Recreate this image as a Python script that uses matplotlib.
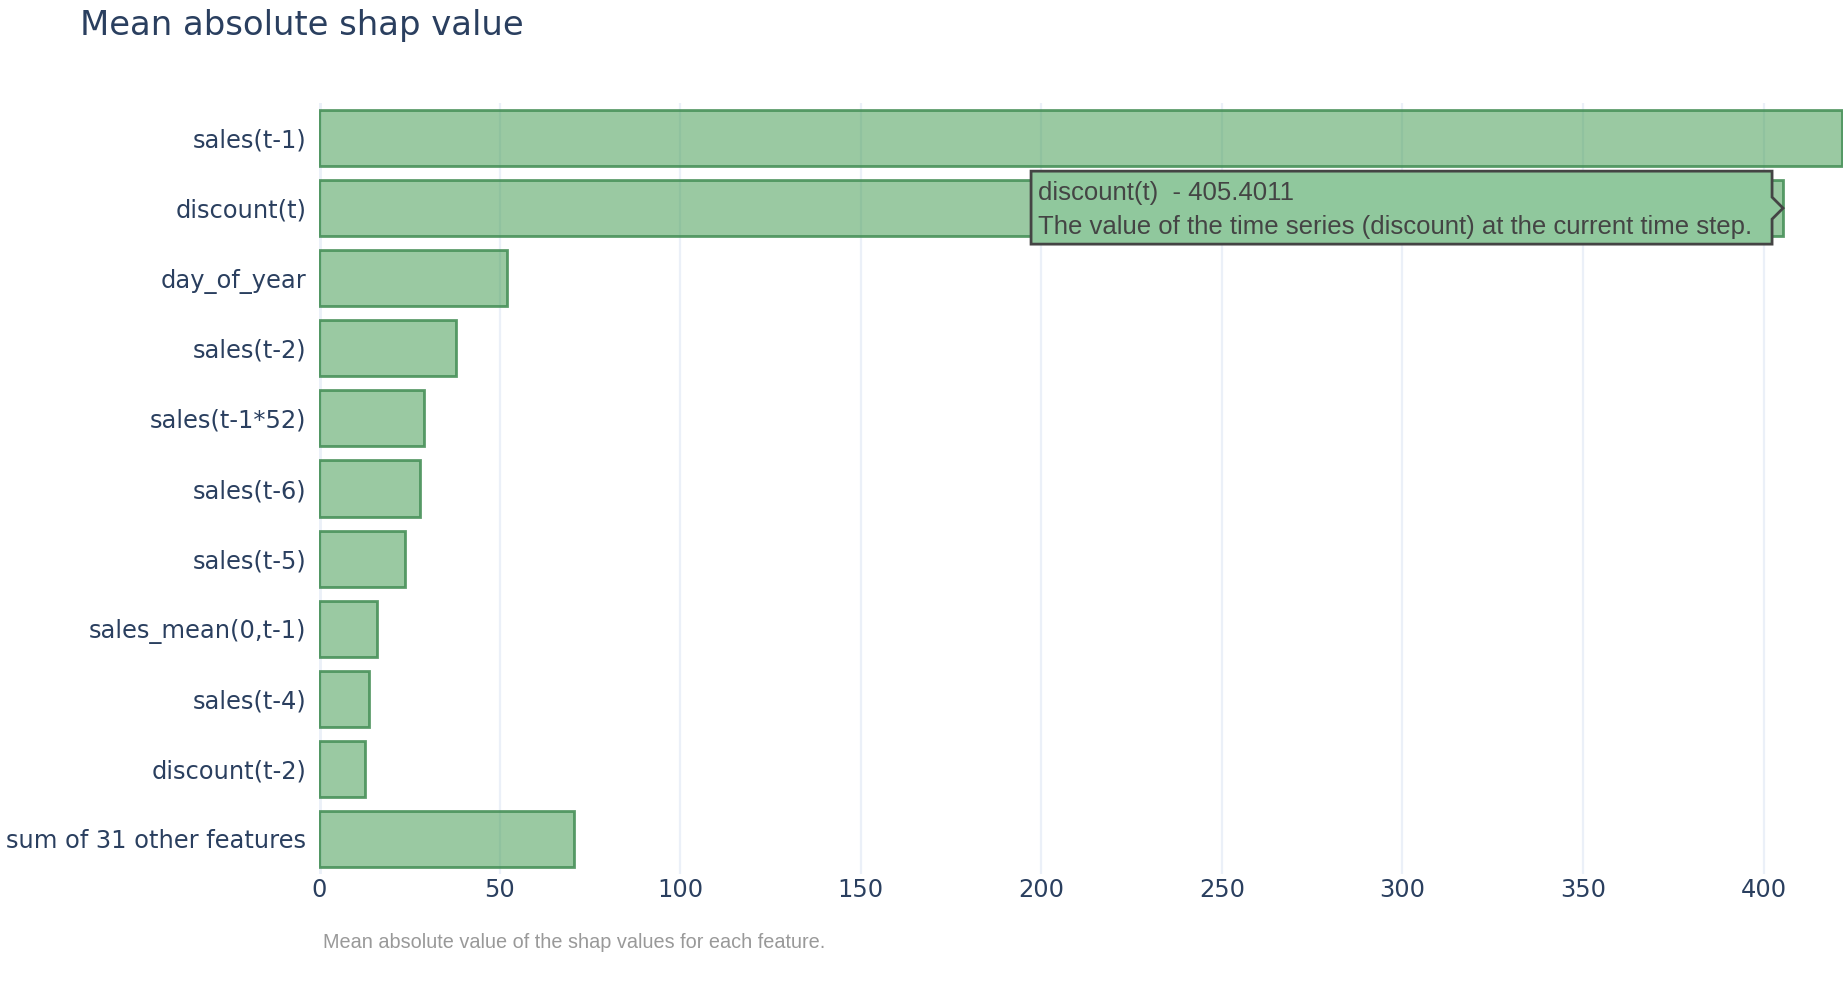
import matplotlib
matplotlib.use("Agg")
import matplotlib.pyplot as plt
from matplotlib.patches import Polygon
from matplotlib.transforms import IdentityTransform

# feature names, top to bottom
features = ["sales(t-1)", "discount(t)", "day_of_year", "sales(t-2)", "sales(t-1*52)",
            "sales(t-6)", "sales(t-5)", "sales_mean(0,t-1)", "sales(t-4)", "discount(t-2)",
            "sum of 31 other features"]
mean_abs_shap = [421.6, 405.4011, 52.1, 38.0, 29.2, 27.9, 23.9, 16.1, 13.8, 12.8, 70.5]
x_ticks = [0, 50, 100, 150, 200, 250, 300, 350, 400]

hover_feature = "discount(t)"
hover_desc = "The value of the time series (discount) at the current time step."

W, H, DPI = 1848, 985, 100
txt_col = "#2a3f5f"
grid_col = "#ebf0f8"

fig = plt.figure(figsize=(W / DPI, H / DPI), dpi=DPI)
ax = fig.add_axes([319 / W, 1 - 874 / H, (1843 - 319) / W, (874 - 103) / H])

ypos = list(range(len(features)))
ax.barh(ypos, mean_abs_shap, height=0.8, color=(0.215, 0.585, 0.28, 0.5),
        edgecolor=(0.25, 0.55, 0.32, 0.85), linewidth=2, zorder=3)

ax.set_ylim(len(features) - 0.5, -0.5)
ax.set_xlim(0, 422)
ax.set_yticks(ypos)
ax.set_yticklabels(features)
ax.set_xticks(x_ticks)
ax.tick_params(length=0, labelsize=17.4, labelcolor=txt_col, pad=9)
ax.tick_params(axis="x", pad=3)
for lab in ax.get_xticklabels() + ax.get_yticklabels():
    lab.set_fontfamily("DejaVu Sans")
for s in ax.spines.values():
    s.set_visible(False)
ax.grid(axis="x", color=grid_col, linewidth=1.6, zorder=0)
ax.axvline(0, color=grid_col, linewidth=3.5, zorder=1)

fig.text(80 / W, 1 - 25 / H, "Mean absolute shap value", fontsize=24.4, color=txt_col,
         family="DejaVu Sans", va="center", ha="left")
fig.text(323 / W, 1 - 943 / H, "Mean absolute value of the shap values for each feature.",
         fontsize=14.3, color="#999999", family="Liberation Sans", va="center", ha="left")

# hover label pointing at the discount(t) bar end
fig.canvas.draw()
idx = features.index(hover_feature)
tx, ty = ax.transData.transform((mean_abs_shap[idx], idx))
R = tx - 11
L = R - 741
T, B = ty + 37, ty - 36
pts = [(L, T), (R, T), (R, ty + 11), (tx, ty), (R, ty - 11), (R, B), (L, B)]
fig.patches.append(Polygon(pts, closed=True, transform=IdentityTransform(),
                           facecolor="#90c89d", edgecolor="#444444", linewidth=2,
                           figure=fig))
t1 = fig.text(0, 0, f"{hover_feature}  - {mean_abs_shap[idx]:.4f}",
              transform=IdentityTransform(), fontsize=18.5, color="#444444",
              family="Liberation Sans", va="center")
t1.set_position((L + 7, ty + 15))
t2 = fig.text(0, 0, hover_desc, transform=IdentityTransform(), fontsize=18.5,
              color="#444444", family="Liberation Sans", va="center")
t2.set_position((L + 7, ty - 19))

fig.savefig("out.png", dpi=DPI)
